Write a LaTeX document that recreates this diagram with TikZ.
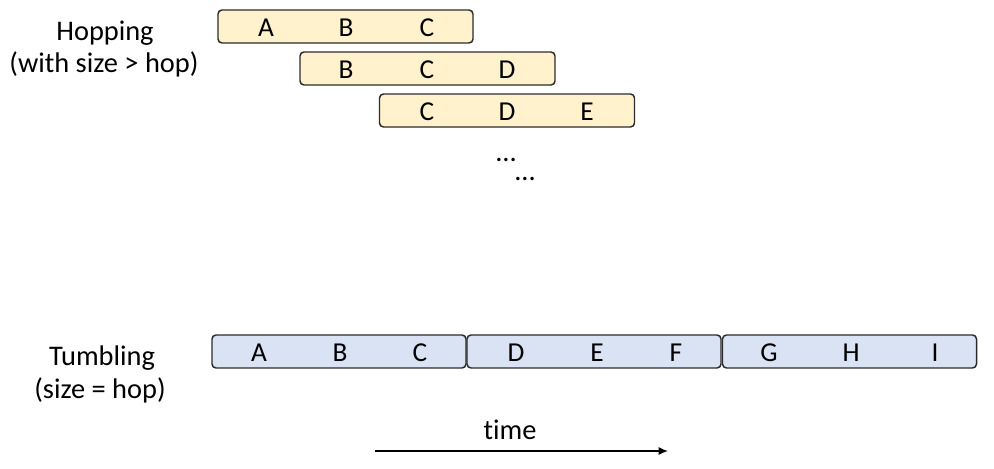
\documentclass[tikz,border=0pt]{standalone}
\usepackage{fontspec}
\setmainfont{Carlito}[Ligatures=NoCommon]
\usetikzlibrary{arrows.meta}
\definecolor{hopfill}{HTML}{FFF2CC}
\definecolor{tumfill}{HTML}{DAE3F3}
\definecolor{edge}{HTML}{2B2B2B}
\begin{document}
\begin{tikzpicture}[x=0.75pt,y=-0.75pt,
  win/.style={draw=edge,line width=1.1pt,rounded corners=3pt,minimum height=33*0.75pt,inner sep=0pt},
  hopbox/.style={win,fill=hopfill,minimum width=255*0.75pt},
  tumbox/.style={win,fill=tumfill,minimum width=254*0.75pt},
  lbl/.style={font=\fontsize{21.3}{24}\selectfont,inner sep=0pt},
  ev/.style={font=\fontsize{20.5}{24}\selectfont,inner sep=0pt,text height=14pt,text depth=0pt}]
\useasboundingbox (0,0) rectangle (994,468);
% hopping
\node[hopbox] (h1) at (345.5,26.5) {};
\node[hopbox] (h2) at (427.5,68.5) {};
\node[hopbox] (h3) at (507,110.5) {};
\foreach \t/\x/\y [count=\i] in {A/266/27,B/346/27,C/427/27,B/346/69,C/427/69,D/507/69,C/427/111,D/507/111,E/587/111}
  \node[ev] (he\i) at (\x,\y) {\t};
\node[lbl] (d1) at (506,160) {...};
\node[lbl] (d2) at (525,179) {...};
\node[lbl] (hl1) at (105,33) {Hopping};
\node[lbl] (hl2) at (104,64) {(with size > hop)};
% tumbling
\node[tumbox] (t1) at (339,351.5) {};
\node[tumbox] (t2) at (594,351.5) {};
\node[tumbox] (t3) at (849.5,351.5) {};
\foreach \t/\x [count=\i] in {A/259,B/340,C/420,D/516,E/597,F/676,G/769,H/851,I/935}
  \node[ev] (te\i) at (\x,352) {\t};
\node[lbl] (tl1) at (102,358) {Tumbling};
\node[lbl] (tl2) at (100,390) {(size = hop)};
% time
\node[lbl] (time) at (510,430) {t\kern0pt ime};
\coordinate (a0) at (375,451);
\coordinate (a1) at (668,451);
\draw[line width=1.1pt,-{Latex[length=7pt,width=6pt]}] (a0) -- (a1);
\end{tikzpicture}
\end{document}
